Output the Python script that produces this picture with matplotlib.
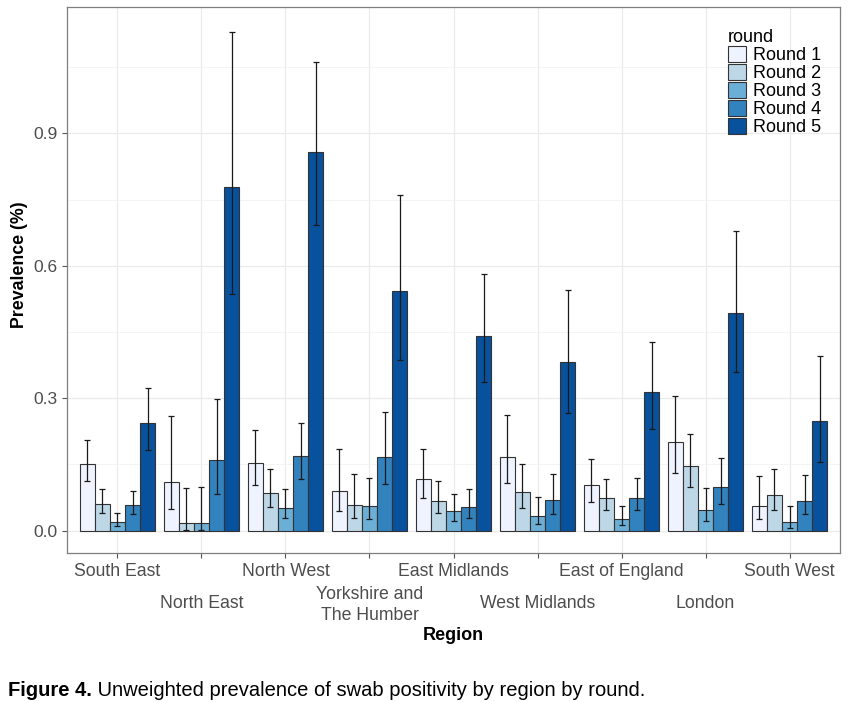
import numpy as np
import matplotlib
matplotlib.use("Agg")
import matplotlib.pyplot as plt
from matplotlib.patches import Patch
from matplotlib import transforms

plt.rcParams['font.family'] = ['Liberation Sans', 'DejaVu Sans']

regions = ['South East', 'North East', 'North West', 'Yorkshire and\nThe Humber',
           'East Midlands', 'West Midlands', 'East of England', 'London', 'South West']
rounds = ['Round 1', 'Round 2', 'Round 3', 'Round 4', 'Round 5']
colors = ['#EFF3FF', '#BDD7E7', '#6BAED6', '#3182BD', '#08519C']

# prevalence (%) per round, regions in the order above
prevalence = [
    [0.151, 0.111, 0.154, 0.091, 0.117, 0.168, 0.103, 0.201, 0.057],
    [0.061, 0.017, 0.086, 0.059, 0.068, 0.087, 0.074, 0.147, 0.081],
    [0.020, 0.017, 0.052, 0.056, 0.044, 0.034, 0.026, 0.047, 0.020],
    [0.058, 0.159, 0.169, 0.168, 0.053, 0.069, 0.075, 0.100, 0.068],
    [0.243, 0.778, 0.858, 0.543, 0.441, 0.383, 0.313, 0.494, 0.249],
]
lower = [
    [0.113, 0.049, 0.104, 0.044, 0.074, 0.108, 0.065, 0.131, 0.026],
    [0.040, 0.002, 0.054, 0.028, 0.041, 0.051, 0.047, 0.098, 0.047],
    [0.010, 0.002, 0.028, 0.026, 0.023, 0.015, 0.012, 0.023, 0.007],
    [0.038, 0.083, 0.118, 0.106, 0.028, 0.038, 0.048, 0.060, 0.038],
    [0.183, 0.535, 0.693, 0.386, 0.336, 0.267, 0.230, 0.359, 0.155],
]
upper = [
    [0.205, 0.259, 0.228, 0.186, 0.184, 0.262, 0.162, 0.305, 0.123],
    [0.094, 0.097, 0.140, 0.128, 0.113, 0.150, 0.118, 0.220, 0.139],
    [0.041, 0.098, 0.095, 0.120, 0.083, 0.077, 0.056, 0.096, 0.057],
    [0.090, 0.298, 0.243, 0.268, 0.095, 0.128, 0.120, 0.165, 0.126],
    [0.323, 1.130, 1.062, 0.760, 0.582, 0.544, 0.427, 0.679, 0.396],
]

fig = plt.figure(figsize=(8.52, 7.02), dpi=100)
ax = fig.add_axes([67/852, 1-553/702, (840-67)/852, (553-7)/702])

x = np.arange(1, len(regions)+1)
w = 0.9/len(rounds)
for i in range(len(rounds)):
    pos = x - 0.45 + w/2 + i*w
    vals = np.array(prevalence[i])
    err = [vals - np.array(lower[i]), np.array(upper[i]) - vals]
    ax.bar(pos, vals, width=w, color=colors[i], edgecolor='#333333', linewidth=0.8, zorder=2)
    ax.errorbar(pos, vals, yerr=err, fmt='none', ecolor='#1a1a1a', elinewidth=0.9,
                capsize=2, capthick=0.9, zorder=3)

ax.set_xlim(0.4, len(regions)+0.6)
ax.set_ylim(-0.0505, 1.186)
ax.set_yticks([0.0, 0.3, 0.6, 0.9])
ax.set_yticklabels(['0.0', '0.3', '0.6', '0.9'], fontsize=12.5, color='#4D4D4D')
ax.set_yticks([0.15, 0.45, 0.75, 1.05], minor=True)
ax.set_xticks(x)
ax.set_xticklabels([])
ax.grid(which='major', color='#EBEBEB', linewidth=0.9, zorder=0)
ax.grid(which='minor', axis='y', color='#F3F3F3', linewidth=0.6, zorder=0)
ax.set_axisbelow(True)
ax.tick_params(axis='both', which='major', length=3.5, color='#555555', width=0.8)
ax.tick_params(axis='y', which='minor', length=0)
for s in ax.spines.values():
    s.set_color('#7F7F7F')
    s.set_linewidth(0.9)

# two-row x labels
trans = transforms.blended_transform_factory(ax.transData, fig.transFigure)
for k, name in enumerate(regions):
    yy = 1-571/702 if k % 2 == 0 else 1-603/702
    if '\n' in name:
        yy = 1-605/702
    ax.text(x[k], yy, name, transform=trans, ha='center', va='center',
            fontsize=12.7, color='#4D4D4D', linespacing=1.25)

fig.text(0.5 * (67+840)/852, 1-636/702, 'Region', ha='center', va='center',
         fontsize=13, fontweight='bold')
fig.text(20/852, 1-265/702, 'Prevalence (%)', ha='center', va='center',
         rotation=90, fontsize=12.8, fontweight='bold')

handles = [Patch(facecolor=c, edgecolor='#333333', linewidth=0.8) for c in colors]
leg = ax.legend(handles, rounds, title='round', loc='upper left',
                bbox_to_anchor=(728/852, 1-29/702), bbox_transform=fig.transFigure,
                frameon=False, fontsize=13, title_fontsize=13, alignment='left',
                handlelength=1.0, handleheight=0.95, labelspacing=0.0,
                handletextpad=0.4, borderpad=0, borderaxespad=0)

t1 = fig.text(8/852, 1-690/702, 'Figure 4.', fontsize=14.5, fontweight='bold',
              ha='left', va='center')
ax.annotate(' Unweighted prevalence of swab positivity by region by round.',
            xy=(1, 0.5), xycoords=t1, ha='left', va='center', fontsize=14.5,
            annotation_clip=False)

fig.savefig('out.png', dpi=100)
